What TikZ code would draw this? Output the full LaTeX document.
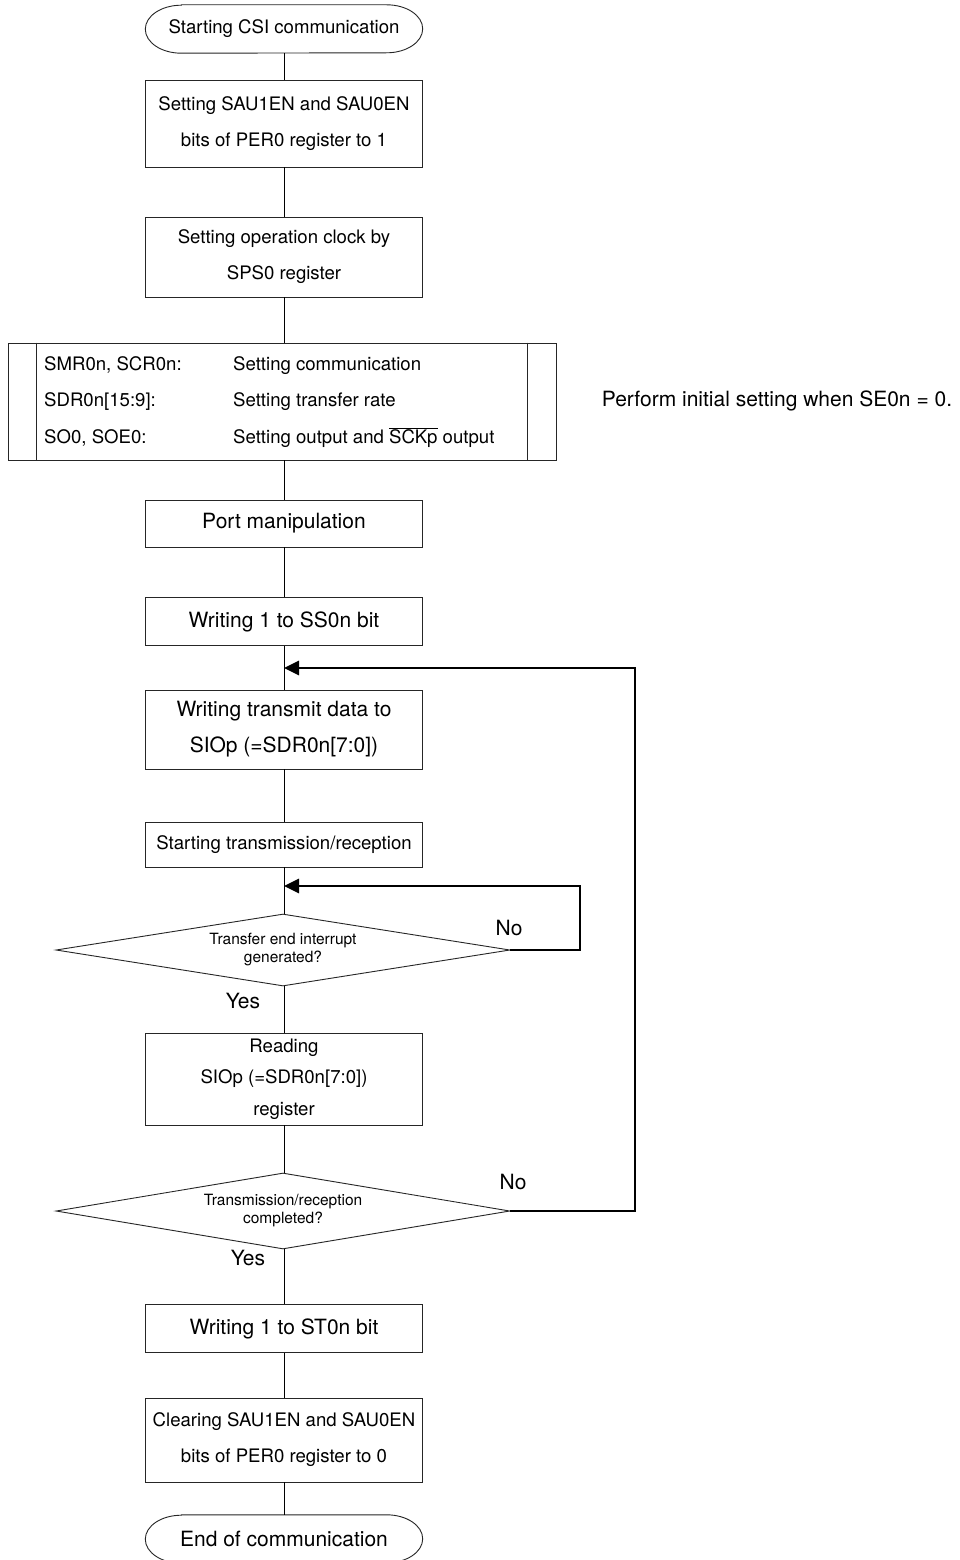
\documentclass[tikz,border=0pt]{standalone}
\usepackage{fontspec}
\setmainfont{TeX Gyre Heros}
\usetikzlibrary{arrows.meta,shapes.geometric}
\tikzset{
  bd/.style={draw=black!85, line width=0.9pt},
  conn/.style={draw=black, line width=0.9pt},
  loopline/.style={draw=black, line width=2.7pt, -{Triangle[length=15pt,width=14pt]}},
  smf/.style={font=\fontsize{18.6}{36}\selectfont},
  lgf/.style={font=\fontsize{21}{36}\selectfont},
  proc/.style={bd, rectangle, inner sep=0pt, align=center, minimum width=277pt},
  termtext/.style={rectangle, inner sep=0pt, align=center, minimum width=277pt, minimum height=48pt},
  dec/.style={bd, diamond, inner sep=0pt, align=center, minimum width=454pt, minimum height=72pt, aspect=6.3,
    font=\fontsize{15.5}{18}\selectfont},
  lbl/.style={inner sep=0pt, font=\fontsize{21}{25}\selectfont},
}
\newcommand{\termoutline}[1]{%
  \draw[bd] ([xshift=36pt]#1.north west) -- ([xshift=-36pt]#1.north east)
    arc[start angle=90, end angle=-90, x radius=36pt, y radius=24pt]
    -- ([xshift=36pt]#1.south west)
    arc[start angle=270, end angle=90, x radius=36pt, y radius=24pt] -- cycle;}
\begin{document}
\begin{tikzpicture}[x=1pt,y=-1pt]
\useasboundingbox[fill=white] (0,0) rectangle (960,1560);

% terminals and processes
\node[termtext, smf] (start) at (284,29) {Starting CSI communication};
\termoutline{start}
\node[proc, smf, minimum height=87pt] (b1) at (284,123.5) {Setting SAU1EN and SAU0EN\\bits of PER0 register to 1};
\node[proc, smf, minimum height=80pt] (b2) at (284,257) {Setting operation clock by\\SPS0 register};

% predefined process box
\node[bd, rectangle, inner sep=0pt, minimum width=548pt, minimum height=117pt] (pre) at (282,401.5) {};
\draw[bd] ([xshift=29pt]pre.north west) -- ([xshift=29pt]pre.south west);
\draw[bd] ([xshift=-29pt]pre.north east) -- ([xshift=-29pt]pre.south east);
\node[smf, anchor=base west, inner sep=0pt] (r1a) at (44,370.7) {SMR0n, SCR0n:};
\node[smf, anchor=base west, inner sep=0pt] (r1b) at (233,370.7) {Setting communication};
\node[smf, anchor=base west, inner sep=0pt] (r2a) at (44,406.7) {SDR0n[15:9]:};
\node[smf, anchor=base west, inner sep=0pt] (r2b) at (233,406.7) {Setting transfer rate};
\node[smf, anchor=base west, inner sep=0pt] (r3a) at (44,443.2) {SO0, SOE0:};
\node[smf, anchor=base west, inner sep=0pt] (r3b) at (233,443.2) {Setting output and $\overline{\hbox{SCKp}}$ output};

\node[lbl] (note) at (777,401) {Perform initial setting when SE0n = 0.};

\node[proc, lgf, minimum height=47pt] (port) at (284,523.5) {Port manipulation};
\node[proc, lgf, minimum height=48pt] (ss) at (284,621.5) {Writing 1 to SS0n bit};
\coordinate (j1) at (284,668);
\node[proc, lgf, minimum height=79pt] (wr) at (284,729.5) {Writing transmit data to\\SIOp (=SDR0n[7:0])};
\node[proc, smf, minimum height=45pt] (stx) at (284,844.5) {Starting transmission/reception};
\coordinate (j2) at (284,886);
\node[dec] (d1) at (283,950) {Transfer end interrupt\\generated?};
\node[lbl] (no1) at (509,928) {No};
\node[lbl] (yes1) at (243,1001) {Yes};
\node[proc, font=\fontsize{18.6}{31.5}\selectfont, minimum height=92pt] (rd) at (284,1079) {Reading\\SIOp (=SDR0n[7:0])\\register};
\node[dec, minimum height=76pt] (d2) at (283,1211) {Transmission/reception\\completed?};
\node[lbl] (no2) at (513,1182) {No};
\node[lbl] (yes2) at (248,1258) {Yes};
\node[proc, lgf, minimum height=48pt] (st) at (284,1328.5) {Writing 1 to ST0n bit};
\node[proc, smf, minimum height=84pt] (clr) at (284,1440) {Clearing SAU1EN and SAU0EN\\bits of PER0 register to 0};
\node[termtext, lgf] (end) at (284,1539) {End of communication};
\termoutline{end}

% main flow
\draw[conn] (start.south) -- (b1.north);
\draw[conn] (b1.south) -- (b2.north);
\draw[conn] (b2.south) -- (b2.south |- pre.north);
\draw[conn] (port.north |- pre.south) -- (port.north);
\draw[conn] (port.south) -- (ss.north);
\draw[conn] (ss.south) -- (wr.north);
\draw[conn] (wr.south) -- (stx.north);
\draw[conn] (stx.south) -- (stx.south |- d1.north);
\draw[conn] (rd.north |- d1.south) -- (rd.north);
\draw[conn] (rd.south) -- (rd.south |- d2.north);
\draw[conn] (st.north |- d2.south) -- (st.north);
\draw[conn] (st.south) -- (clr.north);
\draw[conn] (clr.south) -- (end.north);

% loops
\coordinate (k1) at (580,886);
\coordinate (k2) at (635,668);
\draw[loopline] (d1.east) -| (k1) -- (j2);
\draw[loopline] (d2.east) -| (k2) -- (j1);
\end{tikzpicture}
\end{document}
